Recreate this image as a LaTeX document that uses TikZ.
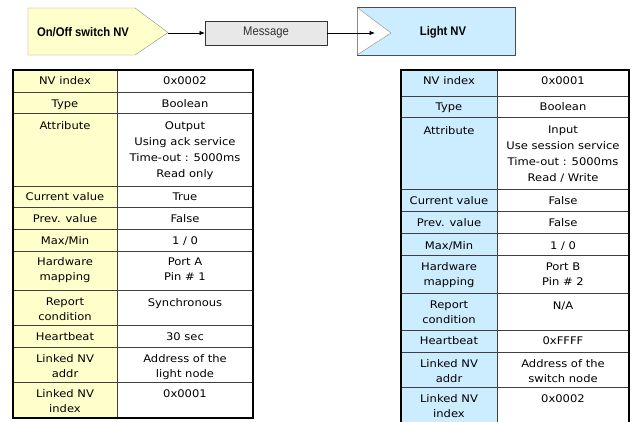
\documentclass[tikz,border=0pt]{standalone}
\usepackage{fontspec}
\setmainfont[FakeStretch=0.9]{Liberation Sans}
\newfontfamily\tblfont[FakeStretch=1.1]{DejaVu Sans}
\usetikzlibrary{arrows.meta}
\definecolor{nvyellow}{HTML}{FFFFCC}
\definecolor{nvblue}{HTML}{CCECFF}
\definecolor{msggray}{HTML}{E8E8E8}
\newcommand\ystrut{\rule[-2.3pt]{0pt}{10.3pt}}

\begin{document}
\begin{tikzpicture}[x=1pt,y=-1pt,
  cell/.style={anchor=north, inner sep=0pt, align=center,
    font=\tblfont\fontsize{10.5}{15}\selectfont,
    execute at begin node=\ystrut, execute at end node=\ystrut},
  cellfour/.style={cell, font=\tblfont\fontsize{10.5}{16}\selectfont},
  outer/.style={line width=2.2pt, black},
  rowrule/.style={line width=0.8pt, black!75},
  link/.style={-{Latex[length=5.5pt,width=4.5pt]}, line width=0.8pt},
  title/.style={inner sep=0pt, font=\bfseries\fontsize{12.5}{14}\selectfont},
]
\useasboundingbox (0,0) rectangle (637,421);
\clip (0,0) rectangle (637,421);

% ---------- top row: sender, message, receiver ----------
\draw[fill=nvyellow, draw=black!45] (28,8) -- (135,8) -- (168,32.5) -- (135,55) -- (28,55) -- cycle;
\node[title] (swtext) at (83,32) {On/Off switch NV};
\coordinate (swtip) at (168,33);

\draw[fill=msggray, draw=black!80] (205,20.7) rectangle (327,45);
\node[inner sep=0pt, font=\fontsize{12.5}{14}\selectfont, text=black!80] (msg) at (266,32) {Message};
\coordinate (msgin) at (205,33);
\coordinate (msgout) at (327,33);

\draw[fill=nvblue, draw=black!70] (357,7.5) rectangle (515,55);
\fill[white] (357.5,8) -- (391,33) -- (357.5,54.5) -- cycle;
\draw[black!45] (357,7.5) -- (391,33) -- (357,55);
\node[title] (light) at (443,32) {Light NV};
\coordinate (lightin) at (375,33);

\draw[link] (swtip) -- (msgin);
\draw[link] (msgout) -- (lightin);

% ---------- left table: switch NV ----------
\fill[nvyellow] (13,70) rectangle (117,418);
\draw[rowrule] (117,70) -- (117,418);
\foreach \y in {92,113.5,186.5,207.5,229,251.5,290,325,347.5,382.5}
  \draw[rowrule] (13,\y) -- (253,\y);
\draw[outer] (13,70) rectangle (253,418);

\node[cell] (la1) at (65,76.5) {NV index};
\node[cell] (lb1) at (185,76.5) {0x0002};
\node[cell] (la2) at (65,99.1) {Type};
\node[cell] (lb2) at (185,99.1) {Boolean};
\node[cell] (la3) at (65,121.5) {Attribute};
\node[cellfour] (lb3) at (185,121.5) {Output\\Using ack service\\Time-out : 5000ms\\Read only};
\node[cell] (la4) at (65,191.8) {Current value};
\node[cell] (lb4) at (185,191.8) {True};
\node[cell] (la5) at (65,214.1) {Prev. value};
\node[cell] (lb5) at (185,214.1) {False};
\node[cell] (la6) at (65,236.3) {Max/Min};
\node[cell] (lb6) at (185,236.3) {1 / 0};
\node[cell] (la7) at (65,257.5) {Hardware\\mapping};
\node[cell] (lb7) at (185,257.5) {Port A\\Pin \# 1};
\node[cell] (la8) at (65,298.1) {Report\\condition};
\node[cell] (lb8) at (185,298.1) {Synchronous};
\node[cell] (la9) at (65,332.5) {Heartbeat};
\node[cell] (lb9) at (185,332.5) {30 sec};
\node[cell] (la10) at (65,354.1) {Linked NV\\addr};
\node[cell] (lb10) at (185,354.1) {Address of the\\light node};
\node[cell] (la11) at (65,389.1) {Linked NV\\index};
\node[cell] (lb11) at (185,389.1) {0x0001};

% ---------- right table: light NV ----------
\fill[nvblue] (401,70) rectangle (497,440);
\draw[rowrule] (497,70) -- (497,440);
\foreach \y in {96.5,117.5,189.5,211.5,233,255,293.5,330,352,387}
  \draw[rowrule] (401,\y) -- (629,\y);
\draw[outer] (401,440) -- (401,70) -- (629,70) -- (629,440);

\node[cell] (ra1) at (449,76.5) {NV index};
\node[cell] (rb1) at (563,76.5) {0x0001};
\node[cell] (ra2) at (449,102.5) {Type};
\node[cell] (rb2) at (563,102.5) {Boolean};
\node[cell] (ra3) at (449,125.8) {Attribute};
\node[cellfour] (rb3) at (563,125.8) {Input\\Use session service\\Time-out : 5000ms\\Read / Write};
\node[cell] (ra4) at (449,196.5) {Current value};
\node[cell] (rb4) at (563,196.5) {False};
\node[cell] (ra5) at (449,218.5) {Prev. value};
\node[cell] (rb5) at (563,218.5) {False};
\node[cell] (ra6) at (449,240.8) {Max/Min};
\node[cell] (rb6) at (563,240.8) {1 / 0};
\node[cell] (ra7) at (449,262.5) {Hardware\\mapping};
\node[cell] (rb7) at (563,262.5) {Port B\\Pin \# 2};
\node[cell] (ra8) at (449,300.8) {Report\\condition};
\node[cell] (rb8) at (563,300.8) {N/A};
\node[cell] (ra9) at (449,335.8) {Heartbeat};
\node[cell] (rb9) at (563,335.8) {0xFFFF};
\node[cell] (ra10) at (449,359.1) {Linked NV\\addr};
\node[cell] (rb10) at (563,359.1) {Address of the\\switch node};
\node[cell] (ra11) at (449,394.1) {Linked NV\\index};
\node[cell] (rb11) at (563,394.1) {0x0002};
\end{tikzpicture}
\end{document}
